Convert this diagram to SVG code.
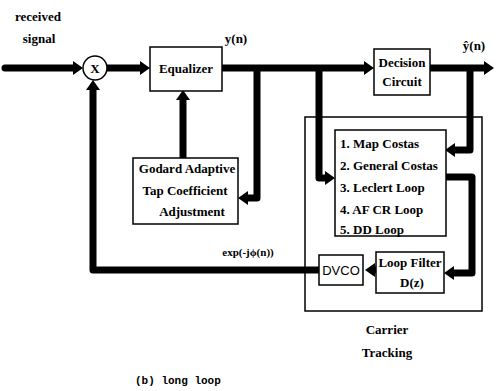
<svg xmlns="http://www.w3.org/2000/svg" width="496" height="391" viewBox="0 0 496 391">
<style>
.box{fill:#fff;stroke:#000;stroke-width:1.5}
.t{font-family:"Liberation Serif",serif;font-weight:bold;font-size:13px;fill:#000}
.c{text-anchor:middle}
.w{fill:none;stroke:#000;stroke-width:7;stroke-linejoin:round}
</style>
<defs>
<marker id="ah" markerUnits="userSpaceOnUse" markerWidth="12" markerHeight="14" refX="2" refY="7" orient="auto">
<path d="M0,0 L10,7 L0,14 z" fill="#000"/>
</marker>
</defs>
<rect width="496" height="391" fill="#fff"/>
<g id="connectors">
<path class="w" d="M5,68 H75" stroke-linecap="round" marker-end="url(#ah)"/>
<path class="w" d="M106,68 H142" marker-end="url(#ah)"/>
<path class="w" d="M222,68 H366" marker-end="url(#ah)"/>
<path class="w" d="M430,68 H486" marker-end="url(#ah)"/>
<path class="w" d="M257,68 V198 H246" marker-end="url(#ah)"/>
<path class="w" d="M183,158 V98" marker-end="url(#ah)"/>
<path class="w" d="M319,68 V178 H327" marker-end="url(#ah)"/>
<path class="w" d="M470,68 V150 H453" marker-end="url(#ah)"/>
<path class="w" d="M446,177 H472 V273 H452" marker-end="url(#ah)"/>
<path class="w" d="M376,270 H373" marker-end="url(#ah)"/>
<path class="w" d="M319,270 H93 V88" marker-end="url(#ah)"/>
</g>
<g id="input-label">
<text class="t c" x="38" y="21">received</text>
<text class="t c" x="39" y="43">signal</text>
</g>
<g id="mixer">
<circle cx="95" cy="68" r="12" class="box"/>
<text class="t c" x="95" y="73">X</text>
</g>
<g id="equalizer">
<rect class="box" x="150" y="47" width="72" height="44"/>
<text class="t c" x="186" y="73">Equalizer</text>
</g>
<g id="yn-label"><text class="t c" x="236" y="43">y(n)</text></g>
<g id="decision">
<rect class="box" x="374" y="49" width="56" height="46"/>
<text class="t c" x="402" y="67">Decision</text>
<text class="t c" x="402" y="86">Circuit</text>
</g>
<g id="yhat-label"><text class="t c" x="474" y="50">ŷ(n)</text></g>
<g id="godard">
<rect class="box" x="133" y="158" width="105" height="66"/>
<text class="t c" x="187" y="173">Godard  Adaptive</text>
<text class="t c" x="185" y="195">Tap Coefficient</text>
<text class="t c" x="192" y="216">Adjustment</text>
</g>
<g id="carrier-tracking">
<rect x="305" y="117" width="177" height="194" fill="none" stroke="#000" stroke-width="1.5"/>
<text class="t c" x="387" y="334">Carrier</text>
<text class="t c" x="387" y="357">Tracking</text>
</g>
<g id="loop-list">
<rect class="box" x="335" y="130" width="111" height="106"/>
<text class="t" x="340" y="148">1. Map Costas</text>
<text class="t" x="340" y="170">2. General Costas</text>
<text class="t" x="340" y="192">3. Leclert Loop</text>
<text class="t" x="340" y="214">4. AF CR Loop</text>
<text class="t" x="340" y="234">5. DD Loop</text>
</g>
<g id="loop-filter">
<rect class="box" x="376" y="252" width="68" height="41"/>
<text class="t c" x="410" y="267">Loop Filter</text>
<text class="t c" x="412" y="287">D(z)</text>
</g>
<g id="dvco">
<rect class="box" x="319" y="255" width="44" height="30"/>
<text class="t c" x="341" y="275" font-family="Liberation Sans,sans-serif" font-weight="normal" style="font-family:'Liberation Sans',sans-serif;font-weight:normal">DVCO</text>
</g>
<g id="exp-label"><text class="t c" x="248" y="256" style="font-size:11px">exp(-jϕ(n))</text></g>
<g id="caption"><text x="135" y="384" font-family="Liberation Mono,monospace" style="font-family:'Liberation Mono',monospace;font-size:11px;font-weight:bold">(b) long loop</text></g>
</svg>
